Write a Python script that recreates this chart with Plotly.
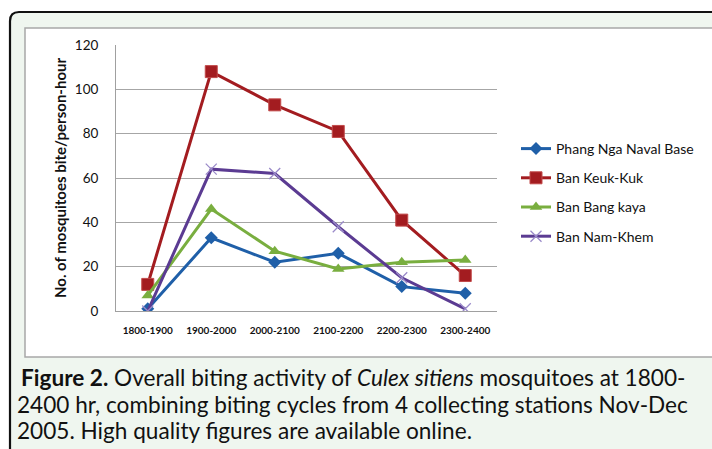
import plotly.graph_objects as go

categories = ["1800-1900", "1900-2000", "2000-2100", "2100-2200", "2200-2300", "2300-2400"]
phang_nga = [1, 33, 22, 26, 11, 8]
keuk_kuk = [12, 108, 93, 81, 41, 16]
bang_kaya = [7, 46, 27, 19, 22, 23]
nam_khem = [0, 64, 62, 38, 15, 1]
y_ticks = [0, 20, 40, 60, 80, 100, 120]

W, H = 712, 449
L, R, T, B = 116, 497, 45, 311


def px(x):
    return (x - L) / (R - L)


def py(y):
    return (B - y) / (B - T)


FONT = "Lato"

fig = go.Figure()
series = [
    ("Phang Nga Naval Base", phang_nga, "#1F5FA8", dict(symbol="diamond", size=10, color="#1F5FA8")),
    ("Ban Keuk-Kuk", keuk_kuk, "#A31C20", dict(symbol="square", size=12, color="#A31C20",
                                                  line=dict(width=1, color="#C24A4A"))),
    ("Ban Bang kaya", bang_kaya, "#79AE3F", dict(symbol="triangle-up", size=11, color="#79AE3F")),
    ("Ban Nam-Khem", nam_khem, "#5B3B92", dict(symbol="x-thin", size=11,
                                                 line=dict(width=1.3, color="#9A8AC9"))),
]
for i, (name, vals, col, mk) in enumerate(series):
    fig.add_trace(go.Scatter(
        x=categories, y=vals, name=name, mode="lines+markers",
        line=dict(color=col, width=3), marker=mk, legendgroup=str(i),
    ))

shapes = []
# outer rounded frame
x0, y0, x1, y1, r = 10, 12, 730, 470, 9
path = (f"M {px(x0)},{py(y1)} L {px(x0)},{py(y0 + r)} "
        f"Q {px(x0)},{py(y0)} {px(x0 + r)},{py(y0)} L {px(x1)},{py(y0)} "
        f"L {px(x1)},{py(y1)} Z")
shapes.append(dict(type="path", path=path, xref="paper", yref="paper",
                   fillcolor="#EFF6EF", line=dict(color="#111111", width=2.2), layer="below"))
# inner white panel
shapes.append(dict(type="rect", xref="paper", yref="paper",
                   x0=px(25), x1=px(730), y0=py(357), y1=py(28),
                   fillcolor="white", line=dict(color="#A8A8A8", width=1.5), layer="below"))

annotations = []
caption = [
    (19, 377, "<b>Figure 2.</b> Overall biting activity of <i>Culex sitiens</i> mosquitoes at 1800-"),
    (15, 404, "2400 hr, combining biting cycles from 4 collecting stations Nov-Dec"),
    (15, 430, "2005. High quality figures are available online."),
]
for x, y, t in caption:
    annotations.append(dict(text=t, x=px(x), y=py(y), xref="paper", yref="paper",
                            xanchor="left", yanchor="middle", showarrow=False,
                            font=dict(family=FONT, size=22.6, color="#111111")))

fig.update_layout(
    width=W, height=H,
    margin=dict(l=L, r=W - R, t=T, b=H - B, pad=0),
    paper_bgcolor="white", plot_bgcolor="rgba(0,0,0,0)",
    shapes=shapes, annotations=annotations,
    showlegend=True,
    legend=dict(x=px(516), y=py(133), xanchor="left", yanchor="top",
                font=dict(family=FONT, size=14, color="#111111"),
                bgcolor="rgba(0,0,0,0)", tracegroupgap=8, itemwidth=30),
    xaxis=dict(type="category", categoryorder="array", categoryarray=categories,
               range=[-0.5, 5.5], showgrid=False, showline=True, linecolor="#A0A0A0",
               linewidth=1, ticks="", ticklabelstandoff=10,
               tickfont=dict(family=FONT, size=10, color="#111111", weight="bold"),
               automargin=False, zeroline=False, fixedrange=True),
    yaxis=dict(range=[0, 120], tickvals=y_ticks, showgrid=True, gridcolor="#A6A6A6",
               gridwidth=1, showline=True, linecolor="#A0A0A0", linewidth=1, ticks="",
               ticklabelstandoff=14, zeroline=False,
               tickfont=dict(family=FONT, size=13.5, color="#111111"),
               title=dict(text="<b>No. of mosquitoes bite/person-hour</b>", standoff=4,
                          font=dict(family=FONT, size=15, color="#111111")),
               automargin=False, fixedrange=True),
)

fig.write_html("out.html", config={"displayModeBar": False},
               post_script="document.body.style.margin='0';document.body.style.overflow='hidden';")
